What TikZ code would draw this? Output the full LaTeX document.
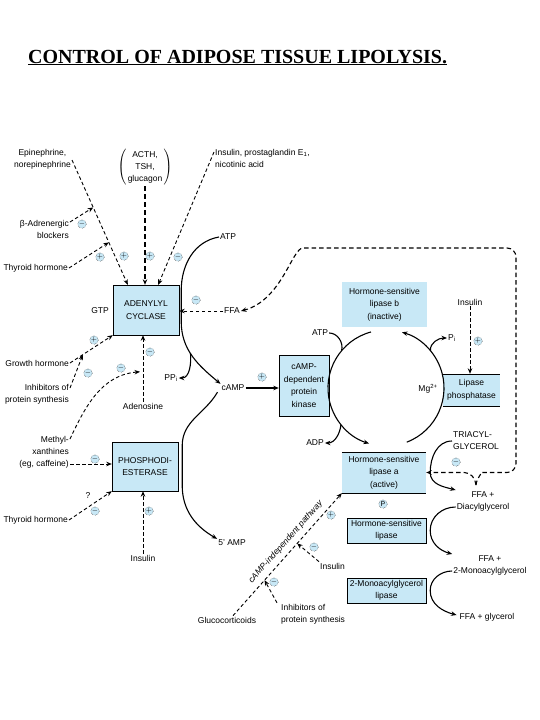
\documentclass[tikz,border=0pt]{standalone}
\usepackage{fontspec}
\setmainfont{Liberation Sans}
\newfontfamily\titlefont{Liberation Serif}
\usetikzlibrary{positioning}
\usetikzlibrary{arrows.meta}
\definecolor{boxblue}{RGB}{200,232,246}

\begin{document}
\begin{tikzpicture}[x=1pt,y=1pt,>={Stealth[length=5.5pt,width=4.5pt]},
    font=\fontsize{8.5}{12}\selectfont,inner sep=1pt,align=center,
    box/.style={draw,fill=boxblue,font=\fontsize{8.5}{12.5}\selectfont},
    sgn/.style={circle,draw,densely dotted,fill=boxblue,minimum size=8.5pt,inner sep=0pt,font=\fontsize{7}{7}\selectfont},
    rxn/.style={line width=1.1pt},
    dsh/.style={line width=0.9pt,dash pattern=on 3.5pt off 2.5pt},
    thick dsh/.style={line width=1.8pt,dash pattern=on 5pt off 3pt},
    loop dsh/.style={line width=1.1pt,dash pattern=on 4.5pt off 3pt}]
  \useasboundingbox (0,0) rectangle (540,-720);

  \node[anchor=base west,inner sep=0pt,font=\titlefont\fontsize{20}{24}\selectfont\bfseries] (title) at (28,-63)
    {\underline{CONTROL OF ADIPOSE TISSUE LIPOLYSIS.}};

  % enzymes
  \node[box,minimum width=66pt,minimum height=50pt] (ac) at (146,-310) {ADENYLYL\\CYCLASE};
  \node[box,minimum width=66pt,minimum height=49pt] (pde) at (145,-466.5) {PHOSPHODI-\\ESTERASE};
  \node[box,minimum width=50pt,minimum height=61pt] (pk) at (304,-385.5) {cAMP-\\dependent\\protein\\kinase};
  \node[box,draw=none,minimum width=85pt,minimum height=45pt] (hslb) at (384.5,-304.5) {Hormone-sensitive\\lipase b\\(inactive)};
  \node[box,draw=none,minimum width=57pt,minimum height=32pt] (lp) at (471.5,-390) {Lipase\\phosphatase};
  \node[box,draw=none,minimum width=84pt,minimum height=41pt] (hsla) at (384,-472.5) {Hormone-sensitive\\lipase a\\(active)};
  \node[box,minimum width=79pt,minimum height=25pt] (hsl) at (386.5,-530.5) {Hormone-sensitive\\lipase};
  \node[box,minimum width=79pt,minimum height=25pt] (mgl) at (386.5,-590.5) {2-Monoacylglycerol\\lipase};
  \draw (lp.north west) -- (lp.north east) (lp.south west) -- (lp.south east);
  \draw (hsla.north west) -- (hsla.north east) (hsla.south west) -- (hsla.south east);

  % labels
  \node[anchor=east] (epi) at (72,-159) {Epinephrine,\\norepinephrine};
  \node (acth) at (145,-167) {$\left(\begin{tabular}{@{\,}c@{\,}}ACTH,\\TSH,\\glucagon\end{tabular}\right)$};
  \node[align=left,anchor=west] (ins1) at (214,-158) {Insulin, prostaglandin E\textsubscript{1},\\nicotinic acid};
  \node[align=right,anchor=east] (bab) at (70,-229) {β-Adrenergic\\blockers};
  \node[anchor=east] (th1) at (69,-268) {Thyroid hormone};
  \node[anchor=west] (atp1) at (219,-237) {ATP};
  \node (gtp) at (100,-311) {GTP};
  \node (ffa) at (232,-311) {FFA};
  \node[anchor=east] (gh) at (70,-363) {Growth hormone};
  \node[align=right,anchor=east] (inh1) at (70,-394) {Inhibitors of\\protein synthesis};
  \node (ppi) at (171,-378) {PP\textsubscript{i}};
  \node (ado) at (143,-406) {Adenosine};
  \node (camp) at (233,-388) {cAMP};
  \node[align=right,anchor=east] (mx) at (70,-452) {Methyl-\\xanthines\\(eg, caffeine)};
  \node[anchor=east] (th2) at (69,-520) {Thyroid hormone};
  \node (q) at (88,-496) {?};
  \node (ins2) at (143,-558) {Insulin};
  \node (amp) at (232,-543) {5' AMP};
  \node (ins3) at (470,-302) {Insulin};
  \node (atp2) at (320,-333) {ATP};
  \node[anchor=west] (pi) at (447,-338) {P\textsubscript{i}};
  \node (mg) at (428,-389) {Mg\textsuperscript{2+}};
  \node (adp) at (315,-443) {ADP};
  \node[align=left,anchor=west] (tg) at (452,-441) {TRIACYL-\\GLYCEROL};
  \node (ffadg) at (483,-501) {FFA +\\Diacylglycerol};
  \node (ffamg) at (490,-565) {FFA +\\2-Monoacylglycerol};
  \node (ffag) at (487,-617) {FFA + glycerol};
  \node[anchor=west] (ins4) at (319,-566) {Insulin};
  \node[align=left,anchor=west] (inh2) at (280,-614) {Inhibitors of\\protein synthesis};
  \node (gc) at (227,-620) {Glucocorticoids};

  % control of adenylyl cyclase
  \draw[dsh,->] ([yshift=-1pt]epi.east) -- coordinate[pos=.38] (j1) coordinate[pos=.66] (j2) ([xshift=15pt]ac.north west);
  \draw[dsh,->] ([yshift=7pt]bab.east) -- (j1);
  \draw[dsh,->] (th1.east) -- (j2);
  \draw[thick dsh,->] (acth.south) -- (acth.south |- ac.north);
  \draw[dsh,->] ([yshift=6pt]ins1.west) -- ([xshift=-21pt]ac.north east);
  \draw[dsh,->] (ffa.west) -- (ffa.west -| ac.east);
  \draw[dsh,->] (gh.east) -- coordinate[pos=.3] (jg) (ac.south west);
  \draw[dsh,->] ([yshift=6pt]inh1.east) -- (jg);
  \draw[dsh,->] (ado.north) -- coordinate[pos=.45] (ja) (ado.north |- ac.south);
  \draw[dsh,->] ([yshift=13pt]mx.east) to[out=65,in=185] ([xshift=-3pt]ja);

  % control of phosphodiesterase
  \draw[dsh,->] ([yshift=-12pt]mx.east) -- ([yshift=-12pt]mx.east -| pde.west);
  \draw[dsh,->] (th2.east) -- (pde.south west);
  \draw[dsh,->] (ins2.north) -- (ins2.north |- pde.south);

  % cAMP
  \draw[rxn,->] (atp1.west) to[out=190,in=90] ([xshift=2pt,yshift=-6pt]ac.north east)
    -- ([xshift=2pt,yshift=14pt]ac.south east) to[out=-90,in=140] coordinate[pos=.45] (jp) (camp.north west);
  \draw[rxn,->] (jp) to[out=-85,in=0] (ppi.east);
  \draw[rxn,->] ([xshift=-3pt]camp.south west) to[out=-120,in=90] ([xshift=4pt,yshift=-4pt]pde.north east)
    -- ([xshift=4pt,yshift=6pt]pde.south east) to[out=-90,in=150] (amp.north west);
  \draw[rxn,->] (camp.east) -- (camp.east -| pk.west);

  % lipase cycle
  \coordinate (cyc) at (386,-388);
  \path (cyc) ++(140:58) coordinate (ka) (cyc) ++(219:58) coordinate (kd) (cyc) ++(40:58) coordinate (kp);
  \draw[rxn,->] (cyc) ++(105:58) arc[start angle=105,end angle=253,radius=58];
  \draw[rxn,->] (cyc) ++(-69:58) arc[start angle=-69,end angle=74,radius=58];
  \draw[rxn] (atp2.east) to[out=0,in=75] (ka);
  \draw[rxn,->] (kd) to[out=-95,in=0] (adp.east);
  \draw[rxn,->] (kp) to[out=95,in=180] (pi.west);
  \draw[dsh,->] (ins3.south) -- (ins3.south |- lp.north);

  % lipolysis
  \draw[rxn,->] (tg.west) to[out=180,in=90] ([xshift=4pt]hsla.east) to[out=-90,in=165] (ffadg.north west);
  \draw[rxn,->] ([yshift=-6pt]ffadg.west) to[out=180,in=90] ([xshift=4pt]hsl.east) to[out=-90,in=165] (ffamg.north west);
  \draw[rxn,->] ([yshift=-6pt]ffamg.west) to[out=180,in=90] ([xshift=4pt]mgl.east) to[out=-90,in=165] ([xshift=-2pt,yshift=2pt]ffag.west);

  % FFA feedback
  \coordinate (fj) at (476,-485);
  \draw[loop dsh,->] (fj) to[out=95,in=0] ([xshift=38pt]hsla.east) -- (hsla.east);
  \draw[loop dsh,->,rounded corners=9pt] (fj) to[out=85,in=180] ([xshift=64pt]hsla.east) -- (516,-472.5)
    -- (516,-248) -- (312,-248) .. controls (292,-248) and (282,-300) .. (ffa.east);

  % cAMP-independent pathway
  \draw[dsh,->] ([xshift=6pt]gc.north) -- node[pos=.55,sloped,above=4pt,font=\itshape\fontsize{8.5}{10}\selectfont] (cip) {cAMP-independent pathway}
    coordinate[pos=.29] (ji1) coordinate[pos=.59] (ji2) (hsla.south west);
  \draw[dsh,->] ([xshift=-3pt]inh2.north west) -- (ji1);
  \draw[dsh,->] (ins4.north west) -- (ji2);

  % signs
  \foreach \sx/\sy/\sg [count=\i] in {82/224/-,100/257/+,124/256/+,150/256/+,178/257/-,196/300/-,
      94/340/+,88/373/-,121/368/-,150/352/-,262/377/+,95/459/-,95/511/-,149/511/+,
      478/341/+,456/462/-,331/515/+,314/547/-,274/582/-}
    \node[sgn] (s\i) at (\sx,-\sy) {$\sg$};
  \node[sgn] (ph) at (383,-504) {P};
\end{tikzpicture}
\end{document}
